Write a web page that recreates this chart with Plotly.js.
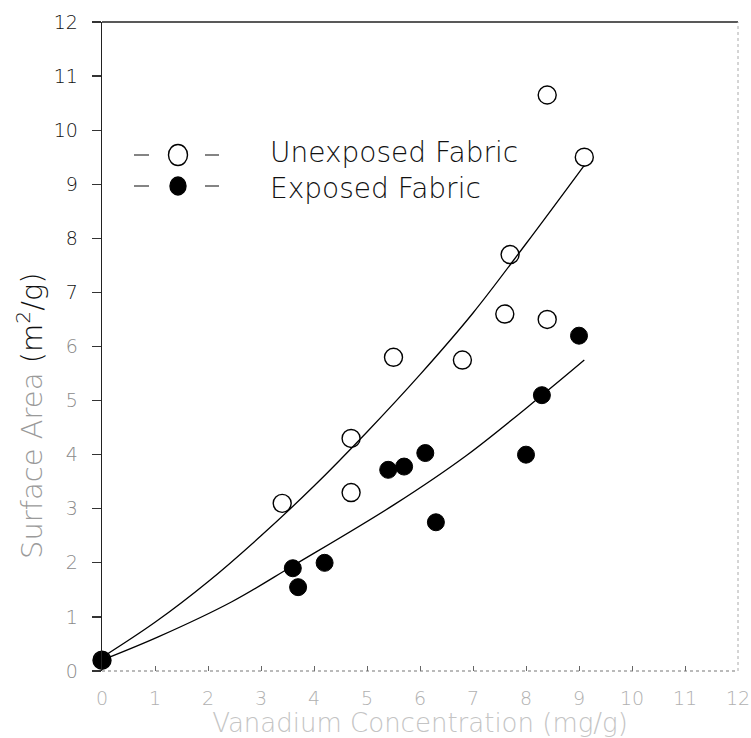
<!DOCTYPE html>
<html>
<head>
<meta charset="utf-8">
<script src="https://cdn.plot.ly/plotly-3.0.1.min.js"></script>
<style>
  html, body { margin: 0; padding: 0; background: #fff; }
  #chart { width: 751px; height: 738px; }
</style>
</head>
<body>
<div id="chart"></div>
<script>
// Surface area of fabric samples versus vanadium concentration
const unexposedX = [0, 3.4, 4.7, 4.7, 5.5, 6.8, 7.6, 7.7, 8.4, 8.4, 9.1];
const unexposedY = [0.2, 3.1, 4.3, 3.3, 5.8, 5.75, 6.6, 7.7, 10.65, 6.5, 9.5];

const exposedX = [0, 3.6, 3.7, 4.2, 5.4, 5.7, 6.1, 6.3, 8.0, 8.3, 9.0];
const exposedY = [0.2, 1.9, 1.55, 2.0, 3.72, 3.78, 4.03, 2.75, 4.0, 5.1, 6.2];

// Fitted trend curves
const unexposedFitX = [0, 1, 2, 3, 4, 5, 6, 7, 8, 9.1];
const unexposedFitY = [0.25, 0.9, 1.65, 2.5, 3.42, 4.42, 5.48, 6.62, 7.9, 9.35];
const exposedFitX = [0, 1.06, 2.45, 3.61, 5.52, 6.87, 8.29, 9.1];
const exposedFitY = [0.2, 0.63, 1.28, 1.95, 3.08, 3.98, 5.09, 5.75];

const seriesNames = ['Unexposed Fabric', 'Exposed Fabric'];
const axisTicks = [0, 1, 2, 3, 4, 5, 6, 7, 8, 9, 10, 11, 12];

const FONT = '"DejaVu Sans", "Liberation Sans", sans-serif';

// plot area in pixels
const W = 751, H = 738;
const M = { l: 102, r: 13, t: 22, b: 67 };
const PW = W - M.l - M.r, PH = H - M.t - M.b;
const px2x = px => (px - M.l) / PW;
const px2y = py => (H - M.b - py) / PH;

// y tick labels: upper ones print dark, lower ones fade out
const yTickText = axisTicks.map(v =>
  `<span style="color:${v >= 7 ? '#111' : '#8a8a8a'}">${v}</span>`);

const traces = [
  {
    x: unexposedFitX, y: unexposedFitY, type: 'scatter', mode: 'lines',
    line: { color: '#000', width: 1.3, shape: 'spline', smoothing: 1 },
    hoverinfo: 'skip', showlegend: false
  },
  {
    x: exposedFitX, y: exposedFitY, type: 'scatter', mode: 'lines',
    line: { color: '#000', width: 1.3, shape: 'spline', smoothing: 1 },
    hoverinfo: 'skip', showlegend: false
  },
  {
    x: unexposedX, y: unexposedY, name: seriesNames[0], type: 'scatter', mode: 'markers',
    marker: { symbol: 'circle', size: 18, color: 'rgba(255,255,255,0)', line: { color: '#000', width: 1.4 } },
    cliponaxis: false, showlegend: false
  },
  {
    x: exposedX, y: exposedY, name: seriesNames[1], type: 'scatter', mode: 'markers',
    marker: { symbol: 'circle', size: 17, color: '#000', line: { color: '#000', width: 1 } },
    cliponaxis: false, showlegend: false
  }
];

// key: dash, symbol, dash, then the two labels
const keyRows = [
  { y: 155, filled: false },
  { y: 186, filled: true }
];
const shapes = [
  // frame lines
  { type: 'line', xref: 'paper', yref: 'paper', x0: 0, x1: 1, y0: 1, y1: 1, line: { color: '#222', width: 1.3 } },
  { type: 'line', xref: 'paper', yref: 'paper', x0: 1, x1: 1, y0: 0, y1: 1, line: { color: '#aaa', width: 1, dash: 'dot' } },
  { type: 'line', xref: 'paper', yref: 'paper', x0: 0, x1: 1, y0: 0, y1: 0, line: { color: '#777', width: 1.2, dash: 'dot' } }
];
keyRows.forEach(r => {
  const yy = px2y(r.y);
  shapes.push({ type: 'line', xref: 'paper', yref: 'paper', x0: px2x(134), x1: px2x(149), y0: yy, y1: yy, line: { color: '#333', width: 1.2 } });
  shapes.push({ type: 'line', xref: 'paper', yref: 'paper', x0: px2x(205), x1: px2x(219), y0: yy, y1: yy, line: { color: '#333', width: 1.2 } });
  shapes.push({
    type: 'circle', xref: 'paper', yref: 'paper',
    x0: px2x(r.filled ? 170 : 168.5), x1: px2x(r.filled ? 186 : 187.5),
    y0: px2y(r.y + (r.filled ? 9 : 10.5)), y1: px2y(r.y - (r.filled ? 9 : 10.5)),
    fillcolor: r.filled ? '#000' : 'rgba(0,0,0,0)',
    line: { color: '#000', width: 1.4 }
  });
});

const annotations = [
  {
    xref: 'paper', yref: 'paper', x: px2x(268), y: px2y(171),
    xanchor: 'left', yanchor: 'middle', align: 'left', showarrow: false,
    text: seriesNames.join('<br>'),
    font: { family: FONT, size: 28, color: '#111', weight: 200 }
  },
  // y axis title
  {
    xref: 'paper', yref: 'paper', x: px2x(30), y: px2y(416),
    xanchor: 'center', yanchor: 'middle', showarrow: false, textangle: -90,
    text: '<span style="color:#9a9a9a">Surface Area</span> (m<sup>2</sup>/g)',
    font: { family: FONT, size: 29, color: '#111', weight: 200 }
  }
];

const layout = {
  width: W, height: H,
  margin: M,
  paper_bgcolor: '#fff', plot_bgcolor: '#fff',
  showlegend: false,
  font: { family: FONT, color: '#111' },
  xaxis: {
    range: [0, 12], tickvals: axisTicks, ticktext: axisTicks.map(String),
    showgrid: false, zeroline: false, showline: false,
    ticks: 'inside', ticklen: 5, tickcolor: '#666', tickwidth: 1,
    tickfont: { family: FONT, size: 19, color: '#b0b0b0', weight: 200 },
    ticklabelstandoff: 14, ticklabeloverflow: 'allow',
    title: {
      text: 'Vanadium Concentration (mg/g)',
      font: { family: FONT, size: 26, color: '#c4c4c4', weight: 200 },
      standoff: 3
    }
  },
  yaxis: {
    range: [0, 12], tickvals: axisTicks, ticktext: yTickText,
    showgrid: false, zeroline: false,
    showline: true, linecolor: '#222', linewidth: 1.3, mirror: false,
    ticks: 'outside', ticklen: 9, tickcolor: '#333', tickwidth: 1.2,
    tickfont: { family: FONT, size: 19, color: '#111', weight: 200 },
    ticklabelstandoff: 10
  },
  shapes: shapes,
  annotations: annotations
};

Plotly.newPlot('chart', traces, layout, { displayModeBar: false, staticPlot: true });
</script>
</body>
</html>
